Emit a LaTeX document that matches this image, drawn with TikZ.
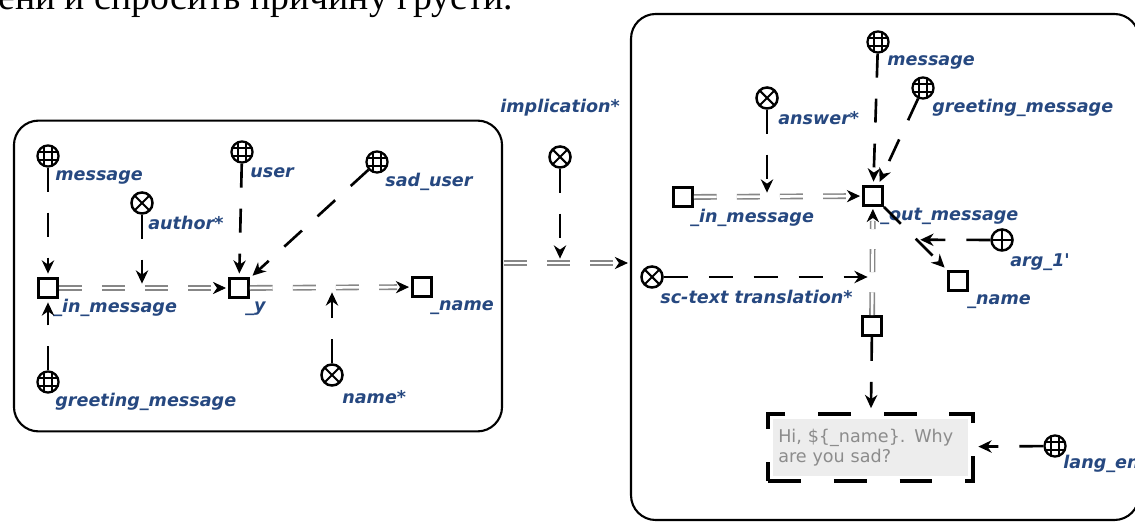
\documentclass[tikz,border=0pt]{standalone}
\usepackage{fontspec}
\newfontfamily\lblfont{DejaVu Sans}
\newfontfamily\cyrfont{Liberation Serif}
\usetikzlibrary{arrows.meta,decorations.markings,calc}
\definecolor{lblblue}{RGB}{38,72,128}
\definecolor{arcgray}{RGB}{135,135,135}
\tikzset{
  sqnode/.style={draw, line width=1.4pt, minimum size=11pt, inner sep=0pt, fill=white},
  globe/.style={circle, draw, line width=1.3pt, minimum size=12pt, inner sep=0pt, fill=white,
    path picture={\foreach \d in {-2.2,2.2}{
      \draw[line width=0.9pt] ([xshift=\d pt]path picture bounding box.north) -- ([xshift=\d pt]path picture bounding box.south);
      \draw[line width=0.9pt] ([yshift=\d pt]path picture bounding box.west) -- ([yshift=\d pt]path picture bounding box.east);}}},
  xnode/.style={circle, draw, line width=1.4pt, minimum size=12pt, inner sep=0pt, fill=white,
    path picture={\draw[line width=1.2pt] (path picture bounding box.north west) -- (path picture bounding box.south east)
      (path picture bounding box.north east) -- (path picture bounding box.south west);}},
  pnode/.style={circle, draw, line width=1.4pt, minimum size=12pt, inner sep=0pt, fill=white,
    path picture={\draw[line width=1.2pt] (path picture bounding box.north) -- (path picture bounding box.south)
      (path picture bounding box.east) -- (path picture bounding box.west);}},
  lbl/.style={anchor=west, inner sep=0pt, text=lblblue, font=\lblfont\bfseries\itshape\fontsize{10pt}{12pt}\selectfont},
  bigbox/.style={draw, rounded corners=14pt, line width=1.2pt, inner sep=0pt},
  darc/.style={draw=black, line width=1.5pt, dash pattern=on 13.6pt off 12pt,
    -{Stealth[length=7.5pt,width=7pt,inset=2.4pt]}, shorten >=2pt},
  carc/.style={draw=arcgray, line width=0.9pt, double=white, double distance=1.5pt,
    dash pattern=on 13pt off 11.5pt, shorten >=8pt, postaction={decorate},
    decoration={markings, mark=at position -1.2pt with {\arrow[black, line width=0.5pt]{Stealth[length=7.5pt,width=7pt,inset=2.4pt]}}}},
  tbox/.style={draw, line width=2.3pt, dash pattern=on 18.7pt off 18.7pt, minimum width=116.5pt, minimum height=38.5pt,
    text width=105pt, inner xsep=5.7pt, align=left, font=\lblfont\fontsize{10pt}{11.3pt}\selectfont, text=black!45,
    path picture={\fill[black!7] ([xshift=2.8pt,yshift=-2.8pt]path picture bounding box.north west) rectangle ([xshift=-2.8pt,yshift=2.8pt]path picture bounding box.south east);}}
}
\begin{document}
\begin{tikzpicture}[x=0.02cm,y=-0.02cm]
\useasboundingbox (0,0) rectangle (1135,526);
\node[anchor=base west, inner sep=0pt, font=\cyrfont\fontsize{21.5pt}{25pt}\selectfont] (toptext) at (-2,10) {ени и спросить причину грусти.};
% boxes
\node[bigbox, minimum width=277.8pt, minimum height=176.9pt] (lbox) at (258,276) {};
\node[bigbox, minimum width=289.1pt, minimum height=288pt] (rbox) at (885,267) {};
% left box nodes
\node[globe] (gmsg) at (48,156) {};
\node[xnode] (gauth) at (142,203) {};
\node[globe] (guser) at (242,152) {};
\node[globe] (gsad) at (377,162) {};
\node[globe] (ggreet) at (48,382) {};
\node[xnode] (gname) at (332,375) {};
\node[sqnode] (sq1) at (48,288) {};
\node[sqnode] (sqy) at (239,288) {};
\node[sqnode] (sqname) at (422,287) {};
\node[lbl] (l1) at (55,177) {message};
\node[lbl] (l2) at (148,223) {author*};
\node[lbl] (l3) at (250,173) {user};
\node[lbl] (l4) at (385,182) {sad\_user};
\node[lbl] (l5) at (53,308) {\_in\_message};
\node[lbl] (l6) at (245,309) {\_y};
\node[lbl] (l7) at (430,308) {\_name};
\node[lbl] (l8) at (342,397) {name*};
\node[lbl] (l9) at (55,402) {greeting\_message};
% middle
\node[xnode] (gimpl) at (560,157) {};
\node[lbl] (l10) at (500,108) {implication*};
\coordinate (lport) at (504,263);
\coordinate (rport) at (630,263);
% right box nodes
\node[sqnode] (rsqin) at (683,197) {};
\node[sqnode] (rsqout) at (873,196) {};
\node[xnode] (ranswer) at (767,98) {};
\node[globe] (rmsg) at (878,42) {};
\node[globe] (rgreet) at (923,88) {};
\node[pnode] (rarg) at (1002,240) {};
\node[sqnode] (rsqname) at (958,281) {};
\node[xnode] (rtrans) at (652,277) {};
\node[sqnode] (rsqlow) at (872,326) {};
\node[tbox] (tb) at (870.5,447.5) {Hi, \$\{\_name\}. Why\\are you sad?};
\node[globe] (rlang) at (1055,446) {};
\node[lbl] (r1) at (887,62) {message};
\node[lbl] (r2) at (932,108) {greeting\_message};
\node[lbl] (r3) at (778,118) {answer*};
\node[lbl] (r4) at (690,218) {\_in\_message};
\node[lbl] (r5) at (880,216) {\_out\_message};
\node[lbl] (r6) at (1010,262) {arg\_1'};
\node[lbl] (r7) at (967,302) {\_name};
\node[lbl] (r8) at (660,297) {sc-text translation*};
\node[lbl] (r9) at (1063,464) {lang\_en};
% left connectors
\draw[carc] (sq1) -- (sqy);
\draw[carc] (sqy) -- (sqname);
\draw[darc] (gmsg) -- (sq1);
\draw[darc] (ggreet) -- (sq1);
\draw[darc, shorten >=2.5pt] (gauth) -- (gauth |- sq1);
\draw[darc] (guser) -- (sqy);
\draw[darc] (gsad) -- (sqy);
\draw[darc, shorten >=2.5pt] (gname) -- (gname |- sqy);
% middle connectors
\draw[carc] (lport) -- (rport);
\draw[darc, shorten >=2.5pt] (gimpl) -- (gimpl |- lport);
% right connectors
\draw[carc] (rsqin) -- (rsqout);
\draw[carc] (rsqlow) -- (rsqout);
\draw[darc, shorten >=2.5pt] (ranswer) -- (ranswer |- rsqin);
\draw[darc] (rmsg) -- (rsqout);
\draw[darc] (rgreet) -- (rsqout);
\draw[darc] (rsqout) -- coordinate[pos=0.52] (diagm) (rsqname);
\draw[darc] (rarg) -- (diagm);
\draw[darc, shorten >=2.5pt] (rtrans) -- (rtrans -| rsqlow);
\draw[darc] (rsqlow) -- (tb);
\draw[darc] (rlang) -- (tb);
\end{tikzpicture}
\end{document}
